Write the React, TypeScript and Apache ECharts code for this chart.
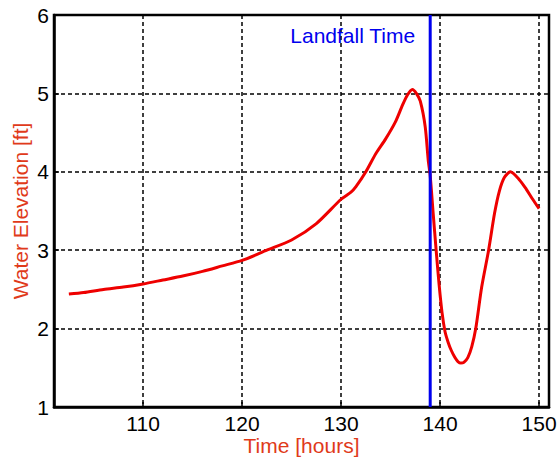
import React, { useEffect, useRef } from "react";
import * as echarts from "echarts";

const times = [102.5, 104, 106, 108, 110, 112, 114, 116, 118, 120, 122.5, 125, 127.5, 130, 131, 131.5, 132.5, 133.5, 134.5, 135.5, 136.2, 136.7, 137.2, 137.6, 138.0, 138.5, 138.8, 139.0, 139.3, 139.6, 139.9, 140.2, 140.5, 140.8, 141.1, 141.5, 141.8, 142.1, 142.4, 142.8, 143.2, 143.6, 144.2, 144.9, 145.5, 146.0, 146.5, 147.1, 148.0, 148.7, 149.3, 150.0];
const elevations = [2.44, 2.46, 2.5, 2.53, 2.57, 2.62, 2.67, 2.73, 2.8, 2.87, 3.0, 3.13, 3.34, 3.65, 3.74, 3.81, 4.0, 4.23, 4.42, 4.64, 4.85, 4.98, 5.05, 5.0, 4.9, 4.57, 4.15, 3.95, 3.47, 3.0, 2.56, 2.2, 1.96, 1.83, 1.73, 1.63, 1.58, 1.56, 1.57, 1.63, 1.77, 2.0, 2.53, 3.0, 3.47, 3.76, 3.93, 4.0, 3.9, 3.78, 3.66, 3.53];
const xTicks = [110, 120, 130, 140, 150];
const landfallTime = 139;
const landfallLabel = "Landfall Time";
const landfallLabelY = 5.74;
const xRange = [101, 151];
const yRange = [1, 6];

const FONT = "'Liberation Sans', Arial, sans-serif";

export default function App() {
  const ref = useRef<HTMLDivElement>(null);
  useEffect(() => {
    if (!ref.current) return;
    const chart = echarts.init(ref.current, null, { renderer: "svg" });
    const gridLine = { show: true, lineStyle: { color: "#000", width: 1.5, type: [4, 3] as any } };
    chart.setOption({
      animation: false,
      backgroundColor: "#fff",
      textStyle: { fontFamily: FONT },
      grid: {
        left: 54,
        right: 9,
        top: 15,
        bottom: 52,
        outerBoundsMode: "none",
        containLabel: false,
        show: true,
        borderColor: "#000",
        borderWidth: 2.5,
        backgroundColor: "transparent",
      },
      xAxis: {
        type: "value",
        min: xRange[0],
        max: xRange[1],
        name: "Time [hours]",
        nameLocation: "middle",
        nameGap: 28,
        nameMoveOverlap: false,
        nameTextStyle: { color: "#e03a1a", fontSize: 21, fontFamily: FONT },
        axisLine: { show: true, lineStyle: { color: "#000", width: 2.5 } },
        axisTick: { show: true, inside: true, length: 5, customValues: xTicks, lineStyle: { color: "#000", width: 1.5 } },
        axisLabel: { customValues: xTicks, color: "#000", fontSize: 21, fontFamily: FONT, margin: 6 },
        splitLine: gridLine,
      },
      yAxis: {
        type: "value",
        min: yRange[0],
        max: yRange[1],
        interval: 1,
        name: "Water Elevation [ft]",
        nameLocation: "middle",
        nameGap: 23,
        nameMoveOverlap: false,
        nameRotate: 90,
        nameTextStyle: { color: "#e03a1a", fontSize: 21, fontFamily: FONT },
        axisLine: { show: true, lineStyle: { color: "#000", width: 2.5 } },
        axisTick: { show: true, inside: true, length: 5, lineStyle: { color: "#000", width: 1.5 } },
        axisLabel: { color: "#000", fontSize: 21, fontFamily: FONT, margin: 5 },
        splitLine: gridLine,
      },
      series: [
        {
          type: "line",
          data: times.map((t, i) => [t, elevations[i]]),
          showSymbol: false,
          smooth: 0.25,
          lineStyle: { color: "#ee0000", width: 3 },
          z: 3,
        },
        {
          type: "line",
          data: [
            [landfallTime, yRange[0]],
            [landfallTime, yRange[1]],
          ],
          showSymbol: false,
          lineStyle: { color: "#0000ee", width: 3 },
          z: 4,
          markPoint: {
            symbol: "circle",
            symbolSize: 0,
            data: [{ coord: [landfallTime, landfallLabelY] }],
            label: {
              show: true,
              formatter: landfallLabel,
              position: "left",
              distance: 15,
              color: "#0000ee",
              fontSize: 21,
              fontFamily: FONT,
            },
          },
        },
      ],
    });
    return () => chart.dispose();
  }, []);
  return <div ref={ref} style={{ position: "fixed", left: 0, top: 0, width: 558, height: 459 }} />;
}
